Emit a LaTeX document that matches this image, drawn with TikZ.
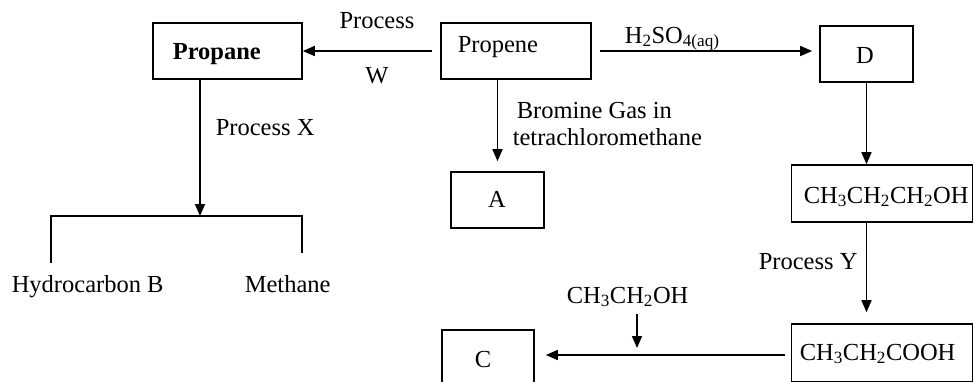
\documentclass[tikz,border=0pt]{standalone}
\usepackage{fontspec}
\setmainfont{Liberation Serif}
\usetikzlibrary{arrows.meta,calc}
\begin{document}
\begin{tikzpicture}[x=1pt,y=-1pt,line width=1.6pt,
  box/.style={draw,inner sep=0pt},
  txt/.style={inner sep=0pt,anchor=base west,font=\fontsize{24.5}{29}\selectfont},
  txtc/.style={inner sep=0pt,anchor=base,font=\fontsize{24.5}{29}\selectfont},
  arr/.style={-{Triangle[length=12pt,width=10pt]}}]
\useasboundingbox (0,0) rectangle (974,381);
% boxes
\node[box,minimum width=149pt,minimum height=56pt] (propanebox) at (227.5,51) {};
\node[box,minimum width=150pt,minimum height=56pt] (propenebox) at (516,51) {};
\node[box,minimum width=93pt,minimum height=56pt] (dbox) at (866.5,54) {};
\node[box,minimum width=93pt,minimum height=56pt] (abox) at (497.5,200) {};
\node[box,minimum width=181pt,minimum height=57pt] (prohbox) at (882,193.5) {};
\node[box,minimum width=181pt,minimum height=58pt] (coohbox) at (882,353) {};
\node[box,minimum width=92pt,minimum height=58pt] (cbox) at (488,359) {};
% box texts
\node[txt] (propanetxt) at (172,59) {\textbf{Propane}};
\node[txt] (propenetxt) at (457,52) {Propene};
\node[txtc] (dtxt) at (865,63) {D};
\node[txtc] (atxt) at (497,207) {A};
\node[txt] (prohtxt) at (803,203) {CH\textsubscript{3}CH\textsubscript{2}CH\textsubscript{2}OH};
\node[txt] (coohtxt) at (799,360) {CH\textsubscript{3}CH\textsubscript{2}COOH};
\node[txtc] (ctxt) at (483,367) {C};
% labels
\node[txtc] (procw) at (377,28) {Process};
\node[txtc] (w) at (377,83) {W};
\node[txt] (h2so4) at (624,43) {H\textsubscript{2}SO\textsubscript{4(aq)}};
\node[txt] (brom1) at (516,118) {Bromine Gas in};
\node[txt] (brom2) at (512,145) {tetrachloromethane};
\node[txt] (procx) at (215,135) {Process X};
\node[txt] (procy) at (758,269) {Process Y};
\node[txt] (etoh) at (566,303) {CH\textsubscript{3}CH\textsubscript{2}OH};
\node[txt] (hydb) at (11,292) {Hydrocarbon B};
\node[txt] (meth) at (244,292) {Methane};
% coordinates
\coordinate (split) at (200,216);
\coordinate (lend) at (51,216);
\coordinate (rend) at (302,216);
\coordinate (ldrop) at (51,263);
\coordinate (rdrop) at (302,253);
\coordinate (etip) at (637,348);
% connectors
\draw[arr] ($(propenebox.west)+(-8,0)$) -- (propanebox.east);
\draw[arr] ($(propenebox.east)+(8,0)$) -- ($(dbox.west |- propenebox.east)+(-7,0)$);
\draw[arr] (abox.north |- propenebox.south) -- ($(abox.north)+(0,-10)$);
\draw[arr] (dbox.south) -- (dbox.south |- prohbox.north);
\draw[arr] (dbox.south |- prohbox.south) -- ($(dbox.south |- coohbox.north)+(0,-11)$);
\draw[arr] ($(coohbox.west)+(-6,2)$) -- ($(cbox.east |- coohbox.west)+(11,2)$);
\draw[arr] ($(etip |- etoh.south)+(0,6)$) -- (etip);
\draw[arr] (split |- propanebox.south) -- (split);
\draw (ldrop) -- (lend) -- (rend) -- (rdrop);
\end{tikzpicture}
\end{document}
